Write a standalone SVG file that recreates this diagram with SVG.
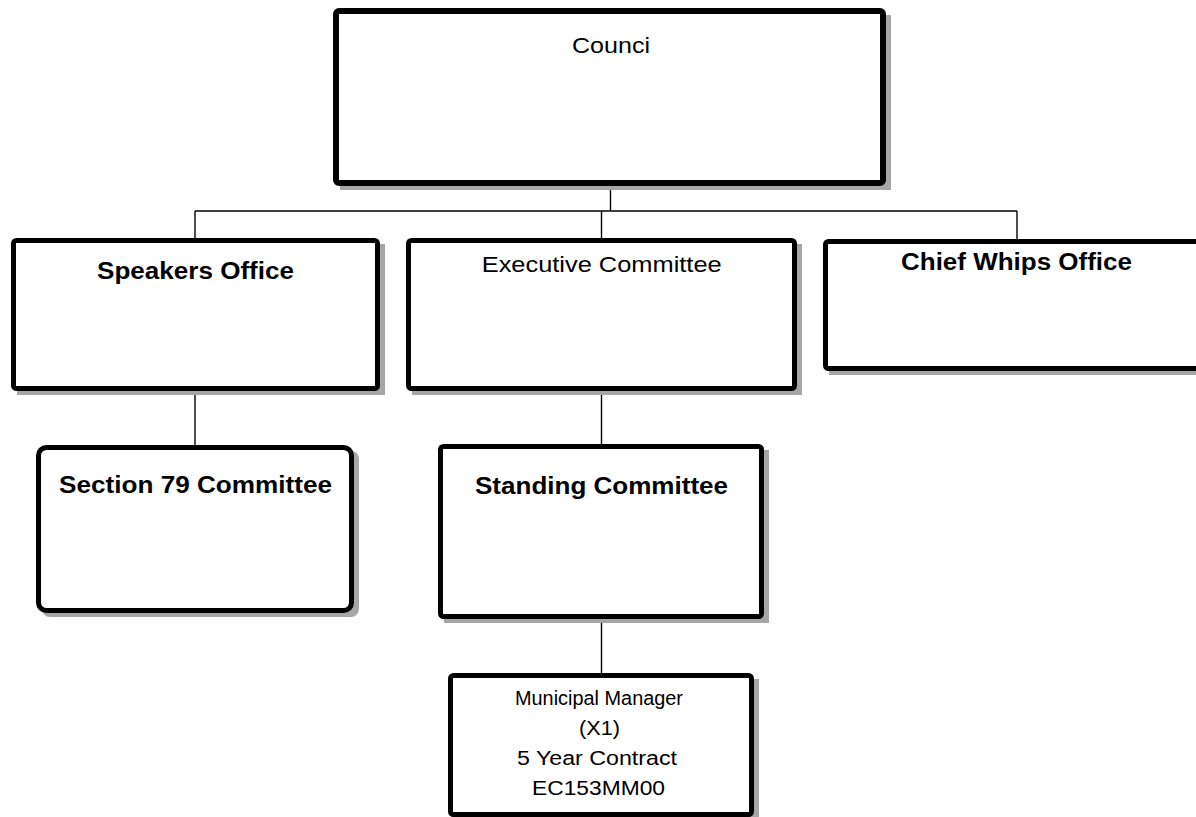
<svg xmlns="http://www.w3.org/2000/svg" width="1196" height="817" viewBox="0 0 1196 817">
  <style>
    .shadow { fill: #a6a6a6; stroke: none; }
    .box { fill: #ffffff; stroke: #000000; stroke-width: 5; stroke-linejoin: round; }
    .link { stroke: #000000; stroke-width: 1.4; fill: none; }
    .t { font-family: "Liberation Sans", Arial, sans-serif; fill: #000000; text-anchor: middle; }
    .b { font-weight: bold; font-size: 23px; }
    .r { font-size: 22px; }
    .s { font-size: 20px; }
  </style>
  <rect width="1196" height="817" fill="#ffffff"/>

  <!-- connectors -->
  <g id="connectors">
    <line class="link" x1="610.5" y1="186" x2="610.5" y2="211"/>
    <line class="link" x1="195" y1="211" x2="1017" y2="211"/>
    <line class="link" x1="195" y1="211" x2="195" y2="239"/>
    <line class="link" x1="601.5" y1="211" x2="601.5" y2="239"/>
    <line class="link" x1="1017" y1="211" x2="1017" y2="240"/>
    <line class="link" x1="195" y1="390" x2="195" y2="446"/>
    <line class="link" x1="601.5" y1="390" x2="601.5" y2="445"/>
    <line class="link" x1="601.5" y1="618" x2="601.5" y2="674"/>
  </g>

  <!-- Council -->
  <g id="council">
    <rect class="shadow" x="340" y="15" width="551" height="175"/>
    <rect class="box" x="336" y="11" width="547" height="172" rx="3" style="stroke-width:6"/>
    <text class="t r" x="611" y="53" textLength="78" lengthAdjust="spacingAndGlyphs">Counci</text>
  </g>

  <!-- Speakers Office -->
  <g id="speakers-office">
    <rect class="shadow" x="17" y="244" width="368" height="151"/>
    <rect class="box" x="13.5" y="240.5" width="364" height="148" rx="3"/>
    <text class="t b" x="195.5" y="279" textLength="197" lengthAdjust="spacingAndGlyphs">Speakers Office</text>
  </g>

  <!-- Executive Committee -->
  <g id="executive-committee">
    <rect class="shadow" x="412" y="244" width="390" height="151"/>
    <rect class="box" x="408.5" y="240.5" width="386" height="148" rx="3"/>
    <text class="t r" x="601.7" y="272" textLength="240" lengthAdjust="spacingAndGlyphs">Executive Committee</text>
  </g>

  <!-- Chief Whips Office -->
  <g id="chief-whips-office">
    <rect class="shadow" x="829" y="245" width="404" height="130"/>
    <rect class="box" x="825.5" y="241.5" width="400" height="127" rx="3"/>
    <text class="t b" x="1016.5" y="270" textLength="231" lengthAdjust="spacingAndGlyphs">Chief Whips Office</text>
  </g>

  <!-- Section 79 Committee -->
  <g id="section-79-committee">
    <rect class="shadow" x="42" y="451" width="317" height="166" rx="8"/>
    <rect class="box" x="38.5" y="447.5" width="313" height="163" rx="8"/>
    <text class="t b" x="195.5" y="493" textLength="273" lengthAdjust="spacingAndGlyphs">Section 79 Committee</text>
  </g>

  <!-- Standing Committee -->
  <g id="standing-committee">
    <rect class="shadow" x="444" y="450" width="325" height="173"/>
    <rect class="box" x="440.5" y="446.5" width="321" height="170" rx="3"/>
    <text class="t b" x="601.5" y="494" textLength="253" lengthAdjust="spacingAndGlyphs">Standing Committee</text>
  </g>

  <!-- Municipal Manager -->
  <g id="municipal-manager">
    <rect class="shadow" x="454" y="679" width="305" height="142"/>
    <rect class="box" x="450.5" y="675.5" width="301" height="139" rx="3"/>
    <text class="t s" x="599" y="705" textLength="168" lengthAdjust="spacingAndGlyphs">Municipal Manager</text>
    <text class="t s" x="599.5" y="735" textLength="41" lengthAdjust="spacingAndGlyphs">(X1)</text>
    <text class="t s" x="597" y="765" textLength="160" lengthAdjust="spacingAndGlyphs">5 Year Contract</text>
    <text class="t s" x="598.5" y="795" textLength="133" lengthAdjust="spacingAndGlyphs">EC153MM00</text>
  </g>
</svg>
